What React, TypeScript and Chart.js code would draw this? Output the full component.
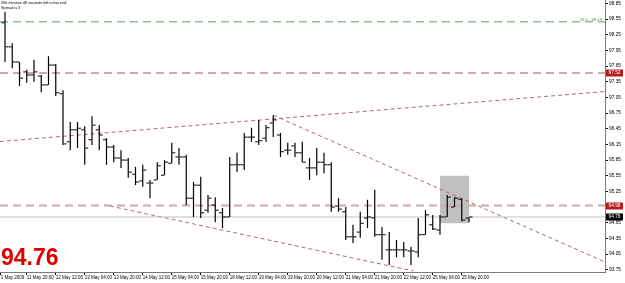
import { useEffect, useRef } from "react";
import { Chart, registerables } from "chart.js";

Chart.register(...registerables);

// ---- OHLC (4H bars, index 0 = first visible bar) ----
const opens = [
  98.48, 98.02, 97.73, 97.54, 97.48, 97.46, 97.29, 97.67, 97.12, 96.2,
  96.43, 96.43, 96.24, 96.43, 96.24, 96.1, 95.89, 95.85, 95.58, 95.45,
  95.41, 95.47, 95.56, 95.79, 95.91, 95.91, 95.12, 95.37, 94.89, 94.99,
  94.84, 94.76, 95.76, 95.76, 96.29, 96.2, 96.27, 96.56, 96.33, 96.04,
  96.12, 95.99, 95.7, 95.7, 95.81, 95.76, 94.97, 94.86, 94.38, 94.47,
  94.74, 94.74, 94.42, 94.13, 94.13, 94.13, 94.11, 94.09, 94.42, 94.61,
  94.51, 94.76, 94.95, 95.1, 94.74,
];
const highs = [
  98.69, 98.09, 97.73, 97.58, 97.77, 97.48, 97.84, 97.69, 97.19, 96.58,
  96.58, 96.5, 96.69, 96.52, 96.27, 96.14, 96.04, 95.89, 95.72, 95.76,
  95.47, 95.81, 95.85, 96.18, 96.08, 95.95, 95.43, 95.53, 95.18, 95.14,
  94.93, 95.91, 95.99, 96.37, 96.47, 96.62, 96.52, 96.71, 96.37, 96.18,
  96.18, 96.2, 95.89, 96.08, 95.99, 95.81, 95.12, 94.95, 94.61, 94.86,
  95.09, 95.28, 94.57, 94.47, 94.32, 94.28, 94.19, 94.74, 94.89, 94.8,
  94.8, 95.18, 95.14, 95.12, 94.76,
];
const lows = [
  97.73, 97.61, 97.27, 97.33, 97.35, 97.15, 97.29, 97.08, 96.14, 96.04,
  96.08, 95.76, 96.14, 96.04, 95.76, 95.81, 95.7, 95.51, 95.37, 95.34,
  95.12, 95.47, 95.56, 95.79, 95.76, 94.99, 94.76, 94.74, 94.84, 94.66,
  94.55, 94.76, 95.62, 95.66, 96.2, 96.14, 96.2, 96.29, 95.91, 95.95,
  95.91, 95.81, 95.47, 95.56, 95.6, 94.86, 94.86, 94.32, 94.26, 94.36,
  94.55, 94.38, 93.94, 93.84, 93.99, 93.99, 93.84, 93.99, 94.42, 94.51,
  94.42, 94.76, 94.95, 94.68, 94.66,
];
const closes = [
  98.02, 97.73, 97.42, 97.48, 97.54, 97.29, 97.67, 97.14, 96.16, 96.43,
  96.46, 96.08, 96.52, 96.33, 96.1, 95.89, 95.85, 95.62, 95.43, 95.66,
  95.41, 95.74, 95.81, 95.99, 95.91, 95.12, 95.37, 94.84, 95.12, 94.89,
  94.76, 95.76, 95.76, 96.29, 96.29, 96.22, 96.47, 96.62, 96.01, 96.04,
  95.99, 95.81, 95.7, 95.81, 95.76, 94.95, 94.91, 94.38, 94.38, 94.64,
  94.76, 94.42, 94.42, 94.13, 94.13, 94.13, 94.11, 94.42, 94.8, 94.53,
  94.76, 95.14, 95.12, 94.7, 94.76,
];

// ---- axes ----
const timeLabels = [
  "1 May 2009", "11 May 20:00", "12 May 12:00", "13 May 04:00", "13 May 20:00",
  "14 May 12:00", "15 May 04:00", "15 May 20:00", "18 May 12:00", "19 May 04:00",
  "19 May 20:00", "20 May 12:00", "21 May 04:00", "21 May 20:00", "22 May 12:00",
  "25 May 04:00", "25 May 20:00",
];
const timeLabelBars = [-0.6, 3, 7, 11, 15, 19, 23, 27, 31, 35, 39, 43, 47, 51, 55, 59, 63];
const priceTicks = [
  98.85, 98.55, 98.25, 97.95, 97.65, 97.35, 97.05, 96.75, 96.45, 96.15,
  95.85, 95.55, 95.25, 94.95, 94.65, 94.35, 94.05, 93.75,
];
const xRange = [-0.69, 82.76];
const yRange = [93.706, 98.917];

// ---- objects ----
const bid = 94.76;
const greenLevel = 98.5;
const greenLabel = "50.0 - 98.49";
const redLevels = [97.52, 94.98];
const trendUpperBars = [-0.69, 82.76];
const trendUpperPrices = [96.206, 97.164];
const trendDownBars = [37, 82.76];
const trendDownPrices = [96.71, 93.898];
const trendLowBars = [14.48, 56.3];
const trendLowPrices = [94.97, 93.726];
const boxBars = [60, 64];
const boxPrices = [94.64, 95.55];
const infoLines = ["266 minutes 48 seconds left to bar end", "Spread is 3"];

const FONT = '"Liberation Sans", Arial, sans-serif';
const W = 625;
const H = 283;

export default function App() {
  const ref = useRef<HTMLCanvasElement>(null);

  useEffect(() => {
    const canvas = ref.current;
    if (!canvas) return;
    const idx = opens.map((_, i) => i);
    const tickOff = 0.28;
    const seg = (xs: number[], ys: number[]) => xs.map((x, i) => ({ x, y: ys[i] }));
    const hl = (v: number) => seg(xRange, [v, v]);

    const overlay = {
      id: "overlay",
      beforeDatasetsDraw(chart: any) {
        const { ctx, scales } = chart;
        const x = scales.x, y = scales.y;
        const x0 = x.getPixelForValue(boxBars[0]);
        const x1 = x.getPixelForValue(boxBars[1]);
        const y0 = y.getPixelForValue(boxPrices[1]);
        const y1 = y.getPixelForValue(boxPrices[0]);
        ctx.save();
        ctx.fillStyle = "#c0c0c0";
        ctx.fillRect(x0, y0, x1 - x0, y1 - y0);
        ctx.restore();
      },
      afterDraw(chart: any) {
        const { ctx, scales, chartArea } = chart;
        const y = scales.y;
        ctx.save();
        // info text
        ctx.fillStyle = "#000";
        ctx.font = `3.8px ${FONT}`;
        ctx.textBaseline = "top";
        ctx.textAlign = "left";
        ctx.fillText(infoLines[0], 1, 0.8);
        ctx.fillText(infoLines[1], 1, 6.2);
        // green level label
        ctx.fillStyle = "rgb(90,150,90)";
        ctx.font = `4.2px ${FONT}`;
        ctx.textAlign = "right";
        ctx.textBaseline = "bottom";
        ctx.fillText(greenLabel, chartArea.right - 3, y.getPixelForValue(greenLevel) + 0.5);
        // price boxes on the axis
        const boxes = [
          { v: redLevels[0], bg: "#b01c1c" },
          { v: redLevels[1], bg: "#b01c1c" },
          { v: bid, bg: "#000" },
        ];
        ctx.font = `4.8px ${FONT}`;
        ctx.textAlign = "left";
        ctx.textBaseline = "middle";
        for (const b of boxes) {
          const py = y.getPixelForValue(b.v);
          ctx.fillStyle = b.bg;
          ctx.fillRect(chartArea.right + 1, Math.round(py) - 3.5, 17, 7);
          ctx.fillStyle = "#fff";
          ctx.fillText(b.v.toFixed(2), chartArea.right + 3.5, Math.round(py));
        }
        // big bid text
        ctx.fillStyle = "#e00000";
        ctx.font = `bold 23px ${FONT}`;
        ctx.textAlign = "left";
        ctx.textBaseline = "alphabetic";
        ctx.fillText(bid.toFixed(2), 1, 265);
        ctx.restore();
      },
    };

    const lineDs = (data: any[], color: string, dash: number[], width: number) => ({
      type: "line" as const,
      data,
      borderColor: color,
      borderDash: dash,
      borderWidth: width,
      pointRadius: 0,
      pointHoverRadius: 0,
      fill: false,
      tension: 0,
      order: 5,
    });

    const chart = new Chart(canvas, {
      type: "scatter",
      data: {
        datasets: [
          {
            type: "scatter",
            data: idx.map((i) => ({ x: i - tickOff, y: opens[i] })),
            pointStyle: "line",
            pointRadius: 1.5,
            pointHoverRadius: 1.5,
            pointBorderWidth: 1,
            pointBorderColor: "#000",
            pointBackgroundColor: "#000",
            order: 0,
          } as any,
          {
            type: "scatter",
            data: idx.map((i) => ({ x: i + tickOff, y: closes[i] })),
            pointStyle: "line",
            pointRadius: 1.5,
            pointHoverRadius: 1.5,
            pointBorderWidth: 1,
            pointBorderColor: "#000",
            pointBackgroundColor: "#000",
            order: 0,
          } as any,
          {
            type: "bar",
            data: idx.map((i) => ({ x: i, y: [lows[i], highs[i]] })),
            backgroundColor: "#000",
            barThickness: 1.2,
            grouped: false,
            inflateAmount: 0,
            borderWidth: 0,
            order: 1,
          } as any,
          lineDs(hl(bid), "rgb(192,192,192)", [], 1),
          lineDs(hl(greenLevel), "rgb(150,190,150)", [8, 5], 1.5),
          lineDs(hl(redLevels[0]), "rgb(205,170,170)", [8, 5], 2),
          lineDs(hl(redLevels[1]), "rgb(205,170,170)", [8, 5], 2),
          lineDs(seg(trendUpperBars, trendUpperPrices), "rgb(170,110,110)", [4, 3], 1),
          lineDs(seg(trendDownBars, trendDownPrices), "rgb(170,110,110)", [4, 3], 1),
          lineDs(seg(trendLowBars, trendLowPrices), "rgb(170,110,110)", [4, 3], 1),
        ] as any,
      },
      options: {
        animation: false,
        responsive: false,
        maintainAspectRatio: false,
        devicePixelRatio: 1,
        events: [],
        layout: { padding: 0, autoPadding: false },
        plugins: { legend: { display: false }, tooltip: { enabled: false } },
        scales: {
          x: {
            type: "linear",
            position: "bottom",
            min: xRange[0],
            max: xRange[1],
            offset: false,
            afterBuildTicks: (s: any) => {
              s.ticks = timeLabelBars.map((v) => ({ value: v }));
            },
            afterFit: (s: any) => {
              s.height = 11;
              s.paddingLeft = 0;
              s.paddingRight = 0;
            },
            ticks: {
              autoSkip: false,
              maxRotation: 0,
              minRotation: 0,
              align: "start",
              padding: 0,
              color: "#000",
              font: { family: FONT, size: 4.5 },
              callback: (_v: any, i: number) => timeLabels[i],
            },
            grid: { drawOnChartArea: false, tickLength: 3, color: "#000", offset: false },
            border: { display: true, color: "#7a7a7a", width: 1 },
          },
          y: {
            type: "linear",
            position: "right",
            min: yRange[0],
            max: yRange[1],
            afterBuildTicks: (s: any) => {
              s.ticks = priceTicks.map((v) => ({ value: v }));
            },
            afterFit: (s: any) => {
              s.width = 20;
              s.paddingTop = 0;
              s.paddingBottom = 0;
            },
            ticks: {
              autoSkip: false,
              padding: 1,
              color: "#000",
              font: { family: FONT, size: 4.8 },
              callback: (v: any) => Number(v).toFixed(2),
            },
            grid: { drawOnChartArea: false, tickLength: 3, color: "#000" },
            border: { display: true, color: "#7a7a7a", width: 1 },
          },
        },
      } as any,
      plugins: [overlay],
    });
    return () => chart.destroy();
  }, []);

  return (
    <canvas
      ref={ref}
      width={W}
      height={H}
      style={{ position: "fixed", left: 0, top: 0, width: W, height: H, background: "#fff" }}
    />
  );
}
